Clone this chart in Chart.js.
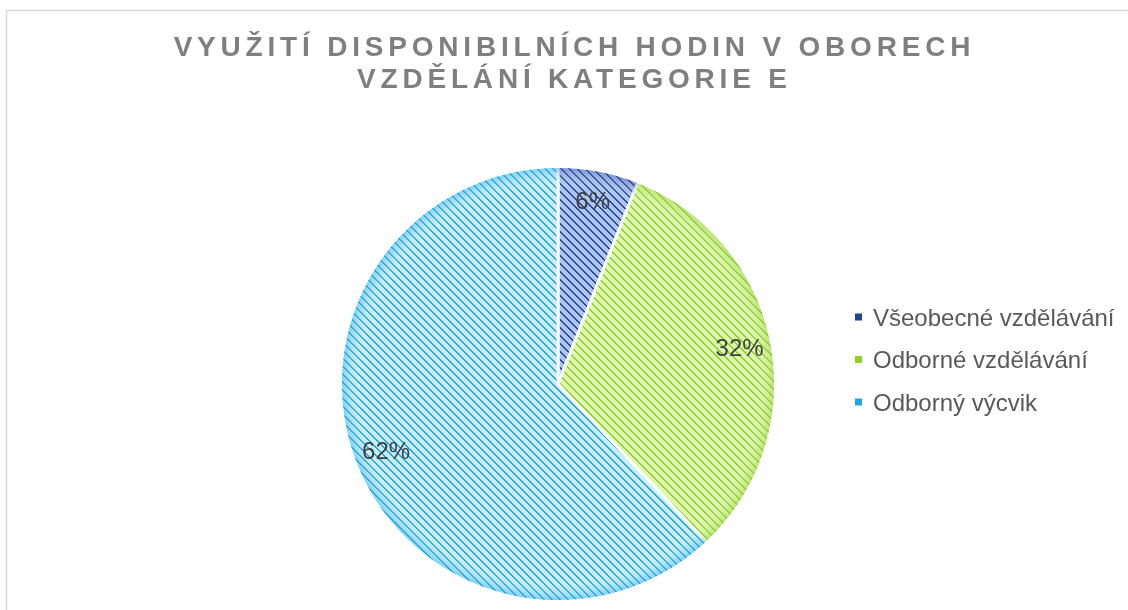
<!DOCTYPE html>
<html><head><meta charset="utf-8">
<script src="https://cdn.jsdelivr.net/npm/chart.js@4.4.1/dist/chart.umd.min.js"></script>
<style>html,body{margin:0;padding:0;background:#fff;overflow:hidden}canvas{display:block}</style>
</head><body>
<canvas id="c" width="1128" height="610"></canvas>
<script>
const titleLines = ['VYUŽITÍ DISPONIBILNÍCH HODIN V OBORECH', 'VZDĚLÁNÍ KATEGORIE E'];
const categories = ['Všeobecné vzdělávání', 'Odborné vzdělávání', 'Odborný výcvik'];
const shares = [6, 32, 62];
const fillLight = ['#adc5f0', '#def8b2', '#c8eefc'];
const fillStripe = ['#1f4597', '#90cf25', '#1ca6e4'];
const rimColor = ['rgba(40,70,160,0.45)', 'rgba(130,200,20,0.45)', 'rgba(20,160,225,0.45)'];

function makePattern(bg, fg) {
  const t = document.createElement('canvas');
  t.width = 8; t.height = 8;
  const g = t.getContext('2d');
  g.fillStyle = bg; g.fillRect(0, 0, 8, 8);
  g.fillStyle = fg;
  for (let y = 0; y < 8; y++) for (let x = 0; x < 8; x++) {
    const d = ((x - y) % 8 + 8) % 8;
    if (d < 2) g.fillRect(x, y, 1, 1);
  }
  return document.getElementById('c').getContext('2d').createPattern(t, 'repeat');
}
const patterns = fillLight.map((b, i) => makePattern(b, fillStripe[i]));

const FONT = '"Liberation Sans", Arial, sans-serif';
const deco = {
  id: 'deco',
  beforeDraw(chart) {
    const ctx = chart.ctx;
    ctx.save();
    ctx.strokeStyle = '#d9d9d9'; ctx.lineWidth = 1.5;
    ctx.beginPath(); ctx.moveTo(6.5, 700); ctx.lineTo(6.5, 10.5); ctx.lineTo(1200, 10.5); ctx.stroke();
    ctx.font = 'bold 28px ' + FONT;
    ctx.fillStyle = '#7f7f7f';
    const ls = 4.8;
    ctx.letterSpacing = ls + 'px';
    ctx.textAlign = 'left'; ctx.textBaseline = 'alphabetic';
    titleLines.forEach((t, i) => {
      const w = ctx.measureText(t).width - ls;
      ctx.fillText(t, 572 - w / 2, 56 + i * 32);
    });
    ctx.restore();
  },
  afterDatasetsDraw(chart) {
    const ctx = chart.ctx;
    const meta = chart.getDatasetMeta(0);
    // soft rim shading near the outer edge
    meta.data.forEach((arc, i) => {
      const p = arc.getProps(['x', 'y', 'startAngle', 'endAngle', 'outerRadius'], true);
      ctx.save();
      ctx.beginPath();
      ctx.moveTo(p.x, p.y);
      ctx.arc(p.x, p.y, p.outerRadius - 1.5, p.startAngle, p.endAngle);
      ctx.closePath();
      ctx.clip();
      const g = ctx.createRadialGradient(p.x, p.y, p.outerRadius * 0.9, p.x, p.y, p.outerRadius);
      g.addColorStop(0, 'rgba(255,255,255,0)');
      g.addColorStop(1, rimColor[i]);
      ctx.fillStyle = g;
      ctx.fillRect(p.x - p.outerRadius, p.y - p.outerRadius, p.outerRadius * 2, p.outerRadius * 2);
      ctx.restore();
    });
    ctx.save();
    ctx.font = '24px ' + FONT;
    ctx.fillStyle = '#404040';
    ctx.textAlign = 'center'; ctx.textBaseline = 'middle';
    meta.data.forEach((arc, i) => {
      const p = arc.getProps(['x', 'y', 'startAngle', 'endAngle', 'outerRadius'], true);
      const mid = (p.startAngle + p.endAngle) / 2;
      const r = p.outerRadius * 0.85;
      ctx.fillText(shares[i] + '%', p.x + Math.cos(mid) * r, p.y + Math.sin(mid) * r);
    });
    ctx.textAlign = 'left'; ctx.textBaseline = 'alphabetic';
    categories.forEach((c, i) => {
      const cy = 317 + i * 42.5;
      ctx.fillStyle = fillStripe[i];
      ctx.fillRect(855, cy - 3.5, 7, 7);
      ctx.fillStyle = '#595959';
      ctx.fillText(c, 873, cy + 8.6);
    });
    ctx.restore();
  }
};

new Chart(document.getElementById('c'), {
  type: 'pie',
  data: {
    labels: categories,
    datasets: [{
      data: shares,
      backgroundColor: patterns,
      borderColor: '#ffffff',
      borderWidth: 3
    }]
  },
  options: {
    responsive: false,
    animation: false,
    devicePixelRatio: 1,
    layout: { padding: { left: 339, right: 351, top: 165, bottom: 7 } },
    plugins: { legend: { display: false }, title: { display: false }, tooltip: { enabled: false } },
    events: []
  },
  plugins: [deco]
});
</script>
</body></html>
